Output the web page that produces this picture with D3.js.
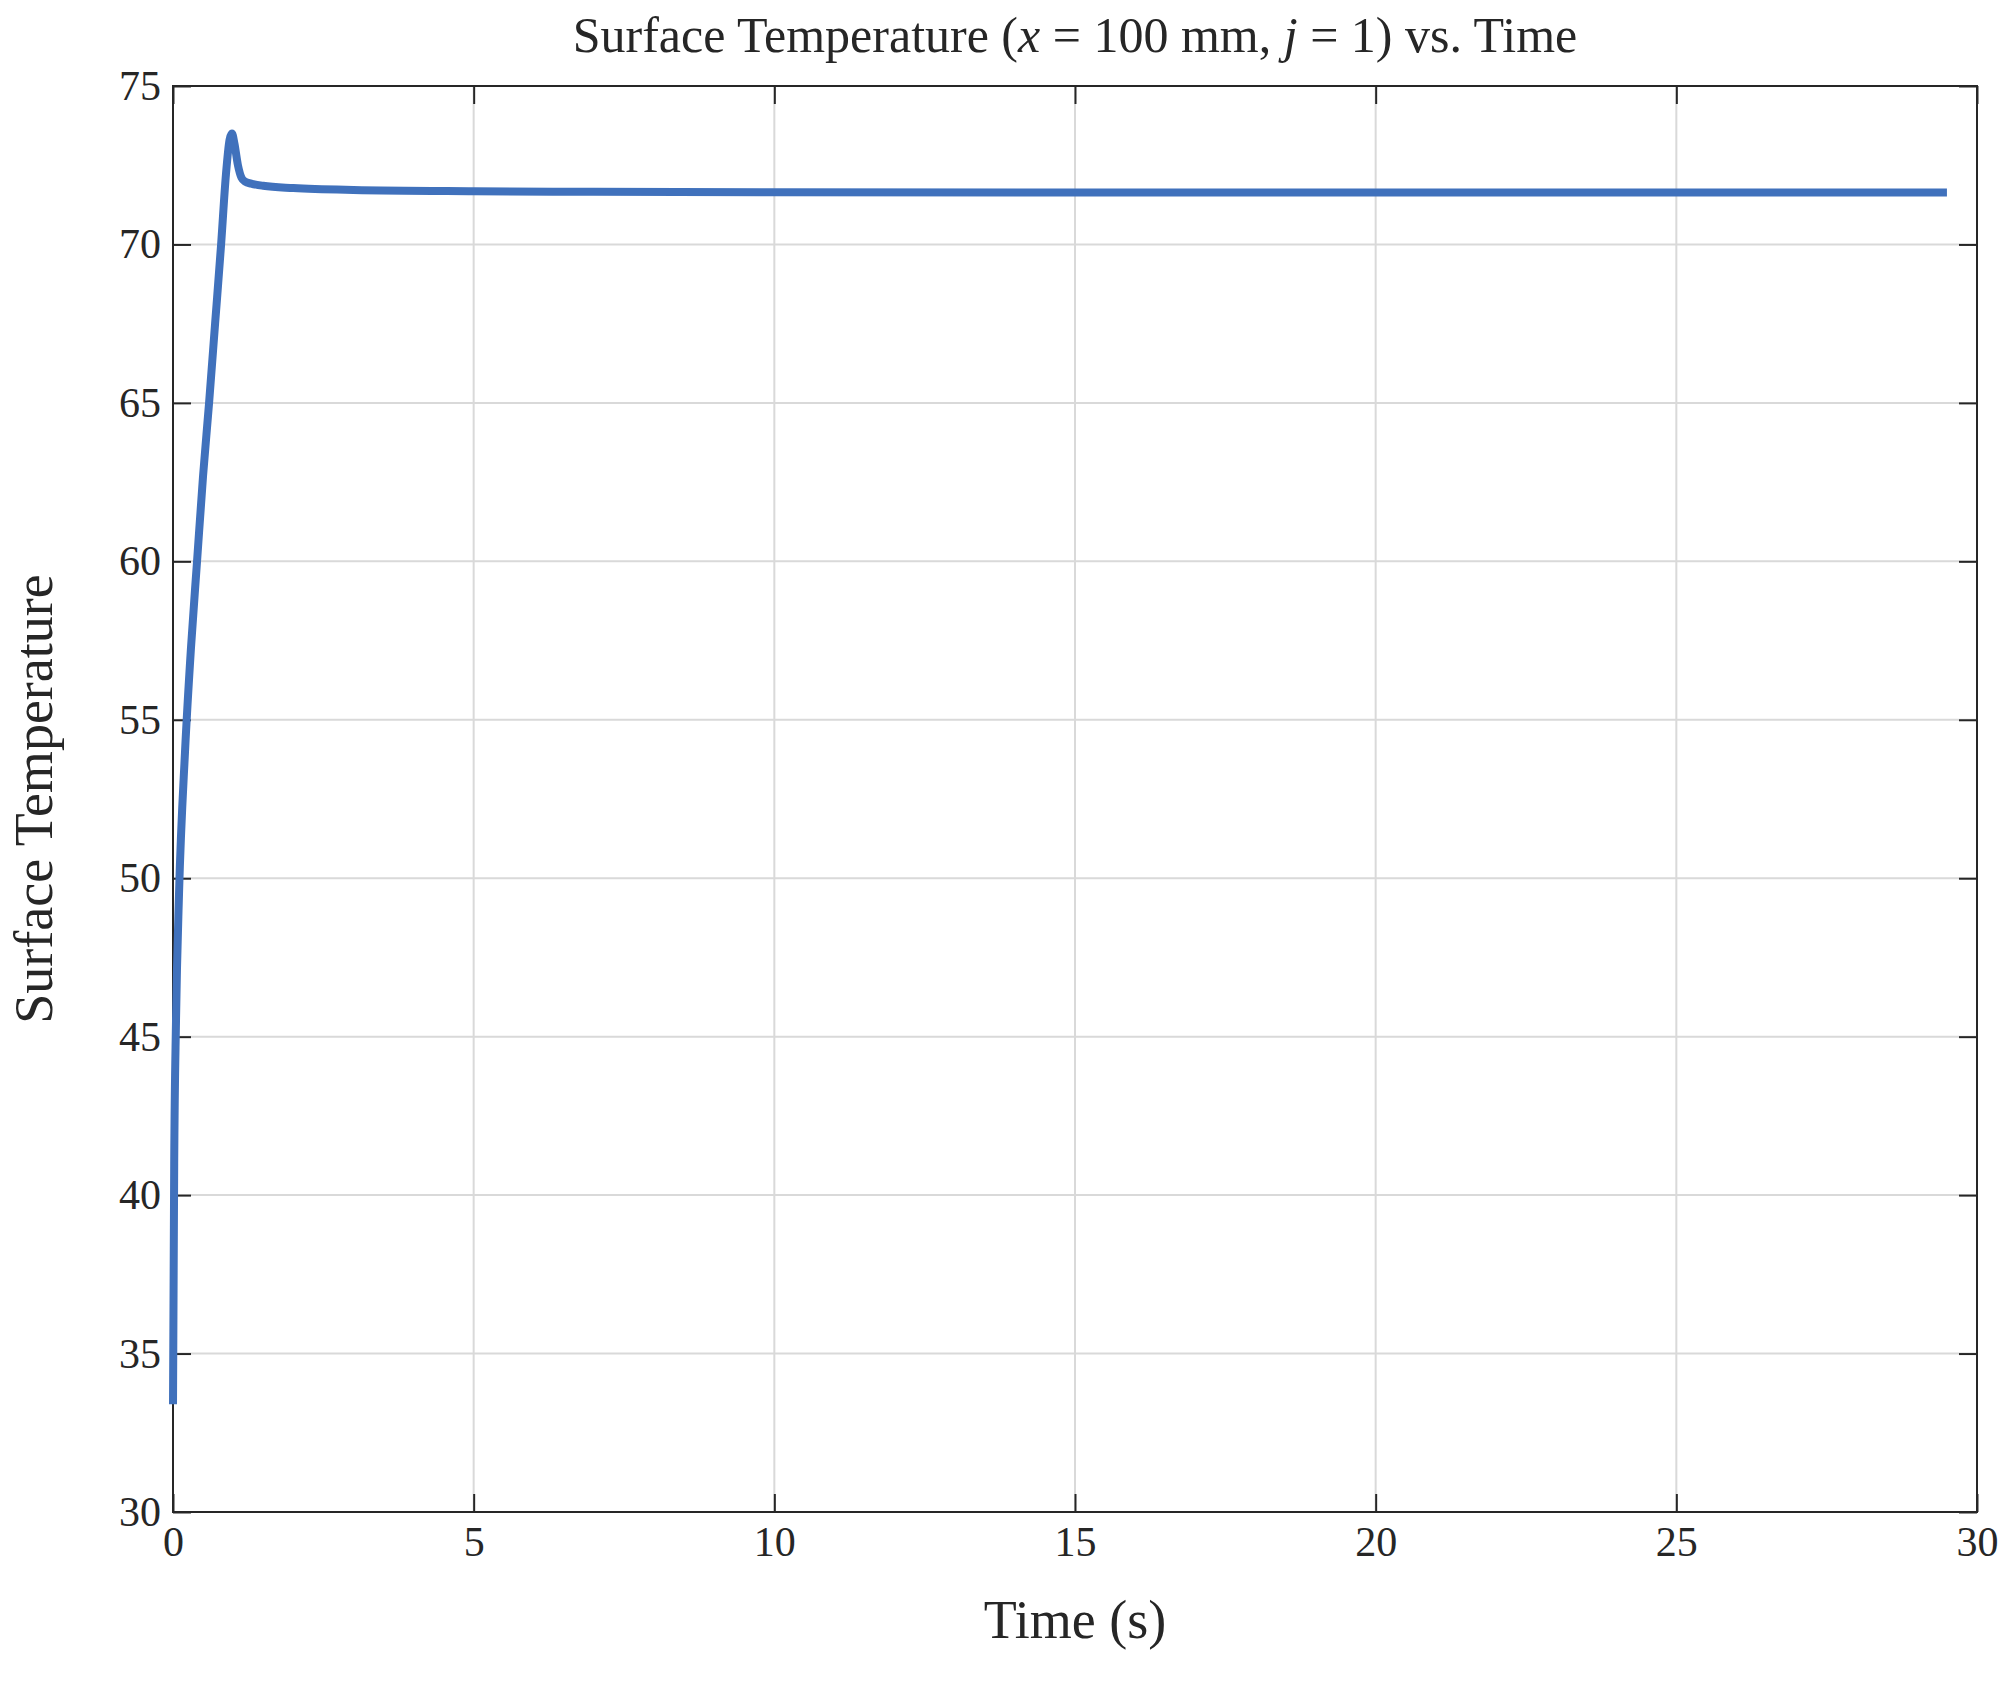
<!DOCTYPE html><html><head><meta charset="utf-8">
<script src="https://cdn.jsdelivr.net/npm/d3@7"></script>
<style>body{margin:0;background:#fff}text{font-family:"Liberation Serif","DejaVu Serif",serif;fill:#262626}</style></head><body>
<svg id="c" width="2016" height="1691"></svg>
<script>
const times=[0,0.02,0.05,0.1,0.2,0.3,0.4,0.5,0.6,0.7,0.8,0.88,0.94,0.98,1.02,1.08,1.14,1.2,1.3,1.5,2,3,5,7,10,15,20,25,29.5];
const temps=[33.4,41,45.5,49.5,54,57.3,60,62.7,65,67.5,70,72.2,73.3,73.5,73.2,72.5,72.1,71.98,71.92,71.85,71.78,71.72,71.68,71.66,71.65,71.64,71.64,71.64,71.64];
const xTicks=[0,5,10,15,20,25,30], yTicks=[30,35,40,45,50,55,60,65,70,75];
const svg=d3.select("#c");
const L=173,R=1977,T=86,B=1512;
const x=d3.scaleLinear().domain([0,30]).range([L,R]);
const y=d3.scaleLinear().domain([30,75]).range([B,T]);
const g=svg.append("g");
g.selectAll(".gx").data(xTicks).join("line").attr("x1",d=>x(d)).attr("x2",d=>x(d)).attr("y1",T).attr("y2",B).attr("stroke","#d9d9d9").attr("stroke-width",2);
g.selectAll(".gy").data(yTicks).join("line").attr("y1",d=>y(d)).attr("y2",d=>y(d)).attr("x1",L).attr("x2",R).attr("stroke","#d9d9d9").attr("stroke-width",2);
const ax=(sel)=>sel.call(s=>{s.select(".domain").remove();s.selectAll("line").attr("stroke","#262626").attr("stroke-width",2);s.selectAll("text").style("font-size","42px").attr("fill","#262626");});
svg.append("g").attr("transform",`translate(0,${B})`).call(d3.axisBottom(x).tickValues(xTicks).tickSize(-18).tickPadding(14)).call(ax);
svg.append("g").attr("transform",`translate(0,${T})`).call(d3.axisTop(x).tickValues(xTicks).tickSize(-18).tickFormat("")).call(ax);
svg.append("g").attr("transform",`translate(${L},0)`).call(d3.axisLeft(y).tickValues(yTicks).tickSize(-18).tickPadding(12)).call(ax);
svg.append("g").attr("transform",`translate(${R},0)`).call(d3.axisRight(y).tickValues(yTicks).tickSize(-18).tickFormat("")).call(ax);
svg.append("rect").attr("x",L).attr("y",T).attr("width",R-L).attr("height",B-T).attr("fill","none").attr("stroke","#262626").attr("stroke-width",2);
const data=times.map((t,i)=>[t,temps[i]]);
svg.append("path").datum(data).attr("d",d3.line().x(d=>x(d[0])).y(d=>y(d[1])).curve(d3.curveMonotoneX)).attr("fill","none").attr("stroke","#4071bc").attr("stroke-width",8);
const title=svg.append("text").attr("x",(L+R)/2).attr("y",52).attr("text-anchor","middle").style("font-size","50px");
title.append("tspan").text("Surface Temperature (");
title.append("tspan").attr("font-style","italic").text("x");
title.append("tspan").text(" = 100 mm, ");
title.append("tspan").attr("font-style","italic").text("j");
title.append("tspan").text(" = 1) vs. Time");
svg.append("text").attr("x",(L+R)/2).attr("y",1638).attr("text-anchor","middle").style("font-size","54px").text("Time (s)");
svg.append("text").attr("transform",`translate(52,${(T+B)/2}) rotate(-90)`).attr("text-anchor","middle").style("font-size","54px").text("Surface Temperature");
</script></body></html>
